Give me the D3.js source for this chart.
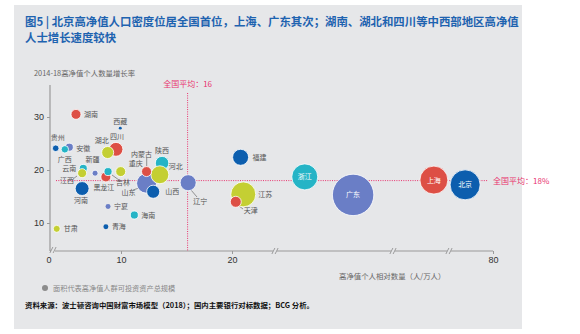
<!DOCTYPE html>
<html><head><meta charset="utf-8">
<script src="https://cdn.jsdelivr.net/npm/d3@7"></script>
<style>
html,body{margin:0;padding:0;background:#fff;}
svg{display:block;font-family:"Noto Sans CJK SC","Noto Sans",sans-serif;}
</style></head>
<body>
<svg id="c" width="580" height="334"></svg>
<script>
// ---- data ----
const provinces = ["广东","北京","上海","浙江","江苏","天津","福建","辽宁","山东","陕西","河北","山西","内蒙古","重庆","四川","湖北","西藏","湖南","安徽","广西","贵州","新疆","云南","江西","河南","黑龙江","吉林","宁夏","海南","甘肃","青海"];
const density   = [37.9,70.5,59.6,29.3,21.05,20.35,20.8,16.05,12.3,13.7,13.5,12.9,12.3,9.96,9.3,8.15,9.9,3.75,2.82,2.2,0.93,6.4,4.76,4.6,4.6,7.9,8.2,8.2,11.2,1.07,7.9];
const growth    = [15.3,17.2,18.1,18.7,15.4,14.0,22.4,17.6,17.5,21.3,19.1,15.9,19.7,19.7,23.9,23.3,27.9,30.5,24.3,23.9,24.1,19.4,20.3,19.4,16.5,18.7,19.7,13.1,11.5,8.9,9.3];
const assets    = [16,8.4,7.3,6.3,5.8,1.13,2.4,2.4,3.7,1.7,3.0,1.6,0.93,0.93,1.8,1.35,0.08,0.93,0.6,0.51,0.41,0.34,0.6,0.76,1.8,0.93,0.6,0.23,0.6,0.46,0.23];
const group     = ["b","d","r","t","g","r","d","b","b","t","g","d","r","g","r","g","d","r","b","t","d","b","t","g","d","r","t","b","t","g","d"];
const xTicks = [10,20,80];
const yTicks = [10,20,30];
const avgX = 16, avgY = 18;
const xBreakpoints = [0,10,20,24,45,65,80];
const xBreaks = [24,45,65];

const titleLines = ["图5 | 北京高净值人口密度位居全国首位，上海、广东其次；湖南、湖北和四川等中西部地区高净值","人士增长速度较快"];
const yLabel = "2014-18高净值个人数量增长率";
const xLabel = "高净值个人相对数量（人/万人）";
const legendText = "面积代表高净值人群可投资资产总规模";
const sourceText = "资料来源：波士顿咨询中国财富市场模型（2018）；国内主要银行对标数据；BCG 分析。";

// ---- style ----
const colors = {r:"#dd4f45", g:"#c4cf33", t:"#25b4c6", b:"#6a7ec6", d:"#0c5eae"};
const pink = "#e8336e";
const inside = new Set(["广东","北京","上海","浙江"]);
// label layout: [dx, dy, anchor]
const lab = {
 "湖南":[8,0,"start"],"西藏":[0,-7,"middle"],"四川":[1,-13,"middle"],"湖北":[-6,-12,"middle"],
 "贵州":[2,-11,"middle"],"安徽":[7,1,"start"],"广西":[0,10.5,"middle"],"新疆":[-2.5,-14,"middle"],
 "云南":[-7,0.5,"end"],"江西":[-8,7.5,"end"],"河南":[-1,11.5,"middle"],"黑龙江":[-2,10.5,"middle"],
 "吉林":[15,11,"middle"],"重庆":[15,-8.5,"middle"],"内蒙古":[-5,-17.5,"middle"],"陕西":[0,-12.5,"middle"],
 "河北":[16,-8,"middle"],"山东":[-18,9,"middle"],"山西":[19,0,"middle"],"辽宁":[12,19,"middle"],
 "宁夏":[6,0,"start"],"海南":[7,0,"start"],"甘肃":[7,0,"start"],"青海":[6,0,"start"],
 "福建":[12,0,"start"],"江苏":[15,0,"start"],"天津":[15,9,"middle"]
};
const leaders = {"吉林":[[112,175],[119,180]],"内蒙古":[[146.7,158],[146.7,166]],"山东":[[139,188],[133,190]],
 "辽宁":[[191,190],[197,197]],"天津":[[239,206],[243,209]],"江西":[[77,176],[73,179]]};

const svg = d3.select("#c");
svg.append("rect").attr("x",14).attr("y",5).attr("width",508).attr("height",324).attr("fill","#e6e7e9");

svg.selectAll("text.title").data(titleLines).enter().append("text")
  .attr("x",25).attr("y",(d,i)=>26+i*15.5).attr("fill","#1e63b0")
  .attr("font-size",11.4).attr("font-weight","bold").text(d=>d);

const x = d3.scaleLinear().domain(xBreakpoints).range([49,121,232,275,393,449,493]);
const y = d3.scaleLinear().domain([10,30]).range([223,117]);
const r = d3.scaleSqrt().domain([0,d3.max(assets)]).range([0,20.7]);
const axisY = 251, axisX = 50;

// axes
const axisColor = "#9a9a9a";
svg.append("line").attr("x1",axisX).attr("x2",axisX).attr("y1",85).attr("y2",axisY).attr("stroke",axisColor).attr("stroke-width",1.2);
svg.append("line").attr("x1",axisX).attr("x2",x(80)).attr("y1",axisY).attr("y2",axisY).attr("stroke",axisColor).attr("stroke-width",1.2);

const ga = svg.append("g").attr("transform",`translate(${axisX},0)`).call(d3.axisLeft(y).tickValues(yTicks).tickSize(3).tickPadding(3));
ga.select(".domain").remove();
ga.selectAll("line").attr("stroke",axisColor);
ga.selectAll("text").attr("font-size",9).attr("fill","#333").attr("font-family","Liberation Sans, Arial, sans-serif");

const gx = svg.append("g").attr("transform",`translate(0,${axisY})`).call(d3.axisBottom(x).tickValues(xTicks).tickSize(3).tickPadding(3));
gx.select(".domain").remove();
gx.selectAll("line").attr("stroke",axisColor);
gx.selectAll("text").attr("font-size",9).attr("fill","#333").attr("font-family","Liberation Sans, Arial, sans-serif");
svg.append("text").attr("x",x(0)).attr("y",263).attr("text-anchor","middle").attr("font-size",9).attr("fill","#333")
  .attr("font-family","Liberation Sans, Arial, sans-serif").text("0");

// breaks
function brk(cx,cy){
  svg.append("rect").attr("x",cx-2).attr("y",cy-3).attr("width",4).attr("height",6).attr("fill","#e6e7e9");
  [-1.6,1.6].forEach(o=>svg.append("line").attr("x1",cx+o-1.5).attr("y1",cy+3).attr("x2",cx+o+1.5).attr("y2",cy-3)
     .attr("stroke","#888").attr("stroke-width",0.8));
}
xBreaks.forEach(b=>brk(x(b),axisY));
brk(axisX+3,axisY-1);

// axis titles
svg.append("text").attr("x",34).attr("y",76).attr("font-size",7.4).attr("fill","#666").text(yLabel);
svg.append("text").attr("x",339).attr("y",279).attr("font-size",7.4).attr("fill","#666").text(xLabel);

// averages
svg.append("line").attr("x1",x(avgX)).attr("x2",x(avgX)).attr("y1",93).attr("y2",axisY)
  .attr("stroke",pink).attr("stroke-width",1).attr("stroke-dasharray","1,1.3");
svg.append("line").attr("x1",56).attr("x2",488).attr("y1",y(avgY)).attr("y2",y(avgY))
  .attr("stroke",pink).attr("stroke-width",1).attr("stroke-dasharray","1,1.3");
svg.append("text").attr("x",x(avgX)).attr("y",87).attr("text-anchor","middle").attr("font-size",8).attr("fill",pink).text("全国平均：16");
svg.append("text").attr("x",493).attr("y",y(avgY)+3).attr("font-size",8).attr("fill",pink).text("全国平均：18%");

// leaders
Object.entries(leaders).forEach(([k,p])=>svg.append("line").attr("x1",p[0][0]).attr("y1",p[0][1]).attr("x2",p[1][0]).attr("y2",p[1][1])
  .attr("stroke","#555").attr("stroke-width",0.6));

// bubbles
const data = provinces.map((n,i)=>({n,x:density[i],y:growth[i],a:assets[i],g:group[i]}));
svg.selectAll("circle.b").data(data).enter().append("circle")
  .attr("cx",d=>x(d.x)).attr("cy",d=>y(d.y)).attr("r",d=>r(d.a))
  .attr("fill",d=>colors[d.g]).attr("stroke",d=>r(d.a)>2.5?"#fff":"none").attr("stroke-width",0.8);

// labels
data.forEach(d=>{
  const cx=x(d.x), cy=y(d.y);
  if(inside.has(d.n)){
    svg.append("text").attr("x",cx).attr("y",cy+2.5).attr("text-anchor","middle").attr("font-size",7).attr("fill","#fff").text(d.n);
  } else if(lab[d.n]){
    const L=lab[d.n];
    svg.append("text").attr("x",cx+L[0]).attr("y",cy+L[1]+2.5).attr("text-anchor",L[2]).attr("font-size",7).attr("fill","#555").text(d.n);
  }
});

// legend
svg.append("circle").attr("cx",45).attr("cy",288).attr("r",3).attr("fill","#8c8c8c");
svg.append("text").attr("x",53).attr("y",290.5).attr("font-size",7.2).attr("fill","#888").text(legendText);
// source
svg.append("text").attr("x",25).attr("y",308).attr("font-size",7.4).attr("font-weight","bold").attr("fill","#111").text(sourceText);
</script>
</body></html>
